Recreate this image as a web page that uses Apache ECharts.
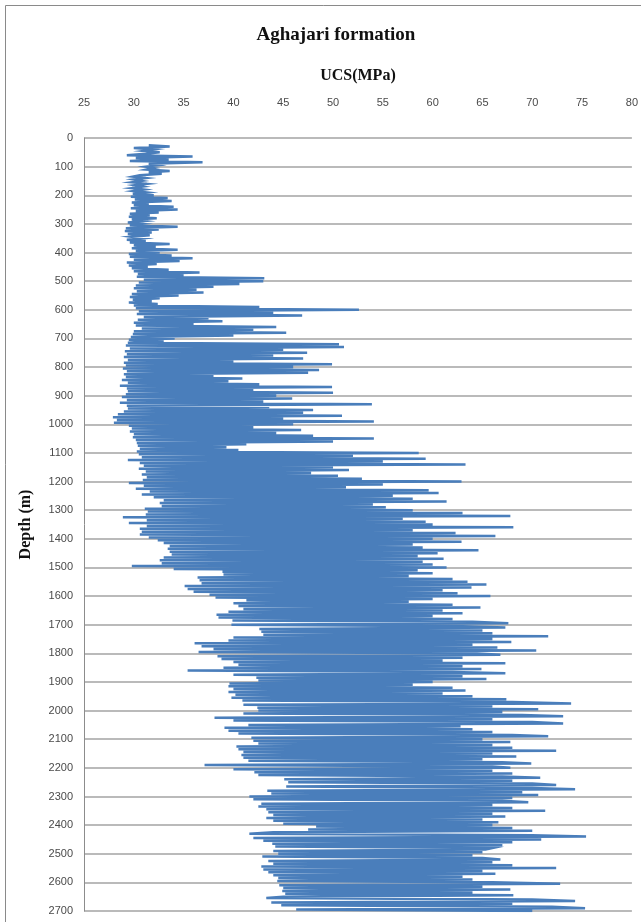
<!DOCTYPE html>
<html>
<head>
<meta charset="utf-8">
<title>Aghajari formation</title>
<script src="https://cdn.jsdelivr.net/npm/echarts@6/dist/echarts.min.js"></script>
<style>
  html, body { margin: 0; padding: 0; background: #ffffff; }
  #chart { width: 641px; height: 922px; }
</style>
</head>
<body>
<div id="chart"></div>
<script>
// UCS log of the Aghajari formation, [depth (m), UCS (MPa)] pairs by depth interval.
const logTo500 = [[25,31.5],[30,33.6],[35,30.0],[40,32.0],[45,31.0],[50,32.6],[55,31.2],[60,29.3],[65,35.9],[70,30.2],[75,33.5],[80,29.6],[85,36.9],[90,31.5],[95,32.4],[100,31.2],[105,32.0],[110,31.3],[115,33.6],[120,31.5],[125,32.8],[130,30.6],[135,29.9],[140,31.2],[145,30.0],[150,30.8],[155,29.8],[160,31.3],[165,30.1],[170,30.9],[175,29.8],[180,31.0],[185,30.0],[190,31.3],[195,29.9],[200,32.0],[205,29.7],[210,33.4],[215,30.1],[220,33.8],[225,29.8],[230,31.5],[235,30.0],[240,34.0],[245,29.7],[250,34.4],[255,30.2],[260,32.5],[265,29.6],[270,31.6],[275,29.5],[280,32.3],[285,29.8],[290,31.0],[295,29.4],[300,30.8],[305,29.6],[310,34.4],[315,29.2],[320,32.5],[325,29.1],[330,31.8],[335,29.4],[340,31.6],[345,29.8],[350,30.9],[355,29.3],[360,31.2],[365,29.6],[370,33.6],[375,30.0],[380,32.2],[385,29.8],[390,34.4],[395,30.2],[400,32.6],[405,29.5],[410,33.8],[415,29.6],[420,35.9],[425,30.0],[430,34.6],[435,29.3],[440,32.3],[445,29.5],[450,31.4],[455,29.8],[460,33.5],[465,30.0],[470,36.6],[475,30.4],[480,35.0],[485,30.3],[490,43.1],[495,31.0]];

const logTo1000 = [[500,43.0],[505,30.5],[510,40.6],[515,30.2],[520,38.0],[525,30.0],[530,36.3],[535,30.3],[540,37.0],[545,29.8],[550,34.5],[555,29.6],[560,32.6],[565,29.9],[570,31.8],[575,29.5],[580,32.4],[585,30.0],[590,42.6],[595,30.2],[600,52.6],[605,30.5],[610,44.0],[615,30.3],[620,46.9],[625,31.0],[630,37.5],[635,30.4],[640,38.9],[645,30.0],[650,36.0],[655,30.2],[660,44.3],[665,30.8],[670,42.0],[675,30.0],[680,45.3],[685,29.9],[690,40.0],[695,29.7],[700,34.1],[705,29.5],[710,33.0],[715,29.4],[720,50.6],[725,29.2],[730,51.1],[735,29.6],[740,45.0],[745,29.1],[750,47.4],[755,29.3],[760,44.0],[765,29.0],[770,47.0],[775,29.4],[780,40.0],[785,29.0],[790,49.9],[795,29.2],[800,46.0],[805,28.9],[810,48.6],[815,29.3],[820,47.5],[825,29.0],[830,38.0],[835,29.2],[840,40.9],[845,28.8],[850,39.5],[855,29.4],[860,42.6],[865,28.6],[870,49.9],[875,29.3],[880,42.0],[885,29.4],[890,50.0],[895,29.2],[900,44.3],[905,28.8],[910,45.9],[915,29.3],[920,43.0],[925,28.6],[930,53.9],[935,29.3],[940,43.6],[945,29.4],[950,48.0],[955,29.0],[960,47.0],[965,28.4],[970,50.9],[975,27.9],[980,45.0],[985,28.3],[990,54.1],[995,28.0]];

const logTo1500 = [[1000,46.0],[1005,29.5],[1010,42.0],[1015,29.8],[1020,46.8],[1025,29.6],[1030,44.3],[1035,30.0],[1040,48.0],[1045,29.9],[1050,54.1],[1055,30.2],[1060,50.0],[1065,30.3],[1070,41.3],[1075,30.4],[1080,39.3],[1085,30.6],[1090,40.5],[1095,30.3],[1100,58.6],[1105,30.5],[1110,52.0],[1115,30.8],[1120,59.3],[1125,29.4],[1130,55.0],[1135,30.6],[1140,63.3],[1145,31.0],[1150,50.0],[1155,30.5],[1160,51.6],[1165,31.2],[1170,47.8],[1175,30.8],[1180,50.5],[1185,31.3],[1190,52.9],[1195,30.9],[1200,62.9],[1205,29.5],[1210,55.0],[1215,31.0],[1220,51.3],[1225,30.2],[1230,59.6],[1235,31.6],[1240,60.6],[1245,30.8],[1250,56.0],[1255,32.0],[1260,58.0],[1265,33.0],[1270,61.4],[1275,32.6],[1280,54.0],[1285,32.8],[1290,55.3],[1295,31.1],[1300,58.0],[1305,31.4],[1310,63.0],[1315,31.2],[1320,67.8],[1325,28.9],[1330,57.0],[1335,31.3],[1340,59.3],[1345,29.5],[1350,60.0],[1355,31.3],[1360,68.1],[1365,30.6],[1370,58.0],[1375,30.8],[1380,62.3],[1385,30.6],[1390,66.3],[1395,31.5],[1400,60.0],[1405,32.4],[1410,62.9],[1415,33.0],[1420,58.0],[1425,33.6],[1430,59.0],[1435,33.4],[1440,64.6],[1445,33.6],[1450,60.5],[1455,33.8],[1460,58.5],[1465,33.0],[1470,61.1],[1475,32.6],[1480,59.0],[1485,32.8],[1490,60.0],[1495,29.8]];

const logTo2000 = [[1500,61.4],[1505,34.0],[1510,58.5],[1515,38.9],[1520,60.0],[1525,39.0],[1530,57.6],[1535,36.4],[1540,62.0],[1545,36.6],[1550,63.5],[1555,36.8],[1560,65.4],[1565,35.1],[1570,63.9],[1575,35.4],[1580,61.0],[1585,36.0],[1590,62.5],[1595,37.6],[1600,65.8],[1605,38.2],[1610,60.0],[1615,41.3],[1620,57.6],[1625,40.0],[1630,62.0],[1635,40.5],[1640,64.8],[1645,41.0],[1650,61.0],[1655,39.5],[1660,63.0],[1665,38.3],[1670,60.0],[1675,38.5],[1680,62.0],[1685,39.9],[1690,64.0],[1695,67.6],[1700,39.8],[1705,63.0],[1710,67.3],[1715,42.6],[1720,65.0],[1725,42.8],[1730,66.0],[1735,43.0],[1740,71.6],[1745,40.0],[1750,66.0],[1755,39.5],[1760,67.9],[1765,36.1],[1770,64.0],[1775,36.8],[1780,66.5],[1785,38.0],[1790,70.4],[1795,36.5],[1800,64.0],[1805,66.8],[1810,38.4],[1815,63.0],[1820,38.8],[1825,61.0],[1830,40.0],[1835,67.3],[1840,40.5],[1845,63.0],[1850,39.0],[1855,64.9],[1860,35.4],[1865,62.0],[1870,67.3],[1875,40.0],[1880,63.0],[1885,42.3],[1890,65.4],[1895,42.5],[1900,60.0],[1905,39.6],[1910,58.0],[1915,39.5],[1920,62.0],[1925,40.0],[1930,63.3],[1935,39.5],[1940,61.0],[1945,40.2],[1950,64.0],[1955,39.8],[1960,67.4],[1965,40.9],[1970,68.0],[1975,73.9],[1980,41.0],[1985,66.0],[1990,42.4],[1995,70.6]];

const logTo2700 = [[2000,42.5],[2005,67.0],[2010,41.0],[2015,69.0],[2020,73.1],[2025,38.1],[2030,66.0],[2035,40.0],[2040,70.0],[2045,73.1],[2050,41.5],[2055,62.8],[2060,39.1],[2065,64.0],[2070,39.5],[2075,66.0],[2080,40.5],[2085,68.0],[2090,71.6],[2095,41.8],[2100,65.0],[2105,42.0],[2110,67.8],[2115,42.5],[2120,66.0],[2125,40.3],[2130,68.0],[2135,40.5],[2140,72.4],[2145,41.0],[2150,66.0],[2155,40.8],[2160,68.4],[2165,41.0],[2170,65.0],[2175,41.5],[2180,67.0],[2185,69.9],[2190,37.1],[2195,66.0],[2200,67.8],[2205,40.0],[2210,66.0],[2215,42.1],[2220,68.0],[2225,42.5],[2230,67.0],[2235,70.8],[2240,45.1],[2245,68.0],[2250,45.5],[2255,70.0],[2260,72.4],[2265,45.3],[2270,70.0],[2275,74.3],[2280,43.4],[2285,69.0],[2290,43.8],[2295,70.6],[2300,41.6],[2305,68.0],[2310,42.0],[2315,67.0],[2320,69.6],[2325,42.8],[2330,66.0],[2335,42.5],[2340,68.0],[2345,43.3],[2350,71.3],[2355,43.5],[2360,66.0],[2365,44.0],[2370,67.3],[2375,43.3],[2380,65.0],[2385,44.0],[2390,66.6],[2395,45.0],[2400,66.0],[2405,48.3],[2410,68.0],[2415,47.5],[2420,70.0],[2425,44.0],[2430,41.6],[2435,70.0],[2440,75.4],[2445,42.0],[2450,70.9],[2455,43.0],[2460,68.0],[2465,43.9],[2470,67.0],[2475,44.2],[2480,66.0],[2485,65.3],[2490,44.0],[2495,65.0],[2500,44.5],[2505,64.0],[2510,42.9],[2515,65.0],[2520,66.8],[2525,43.5],[2530,66.0],[2535,44.0],[2540,68.0],[2545,42.8],[2550,72.4],[2555,43.0],[2560,65.0],[2565,43.5],[2570,66.3],[2575,44.0],[2580,63.0],[2585,44.5],[2590,64.0],[2595,44.4],[2600,66.0],[2605,72.8],[2610,44.6],[2615,65.0],[2620,45.0],[2625,67.8],[2630,44.9],[2635,64.0],[2640,45.2],[2645,68.1],[2650,45.0],[2655,43.3],[2660,70.0],[2665,74.3],[2670,43.8],[2675,68.0],[2680,44.8],[2685,72.0],[2690,75.3],[2695,46.3],[2700,70.0]];

// Axis ranges and texts
const ucsRange = { min: 25, max: 80, step: 5 };
const depthRange = { min: 0, max: 2700, step: 100 };
const chartTitle = 'Aghajari formation';
const ucsAxisName = 'UCS(MPa)';
const depthAxisName = 'Depth (m)';

// Join the intervals into one continuous log; each point is [UCS, depth].
const logPoints = []
  .concat(logTo500, logTo1000, logTo1500, logTo2000, logTo2700)
  .map(function (p) { return [p[1], p[0]]; });

const serifFamily = '"Liberation Serif", "DejaVu Serif", serif';
const tickFont = '"Liberation Sans", "DejaVu Sans", sans-serif';

const chart = echarts.init(document.getElementById('chart'), null, { renderer: 'canvas' });

chart.setOption({
  animation: false,
  backgroundColor: '#ffffff',
  graphic: [
    {
      type: 'rect',
      silent: true,
      shape: { x: 5.5, y: 5.5, width: 720, height: 1000 },
      style: { fill: 'none', stroke: '#8a8a8a', lineWidth: 1 }
    },
    {
      type: 'text',
      silent: true,
      x: 336,
      y: 35,
      style: {
        text: chartTitle,
        font: 'bold 19px ' + serifFamily,
        fill: '#111111',
        textAlign: 'center',
        textVerticalAlign: 'middle'
      }
    }
  ],
  grid: { left: 84, right: 7, top: 138, bottom: 11, containLabel: false },
  xAxis: {
    type: 'value',
    position: 'top',
    min: ucsRange.min,
    max: ucsRange.max,
    interval: ucsRange.step,
    name: ucsAxisName,
    nameLocation: 'middle',
    nameGap: 54,
    nameTextStyle: {
      fontFamily: serifFamily,
      fontWeight: 'bold',
      fontSize: 16,
      color: '#111111'
    },
    axisLine: { show: false },
    axisTick: { show: false },
    splitLine: { show: false },
    axisLabel: {
      margin: 30,
      fontFamily: tickFont,
      fontSize: 11,
      color: '#4a4a4a'
    }
  },
  yAxis: {
    type: 'value',
    inverse: true,
    min: depthRange.min,
    max: depthRange.max,
    interval: depthRange.step,
    name: depthAxisName,
    nameLocation: 'middle',
    nameGap: 50,
    nameTextStyle: {
      fontFamily: serifFamily,
      fontWeight: 'bold',
      fontSize: 16,
      color: '#111111'
    },
    axisLine: { show: true, lineStyle: { color: '#8c8c8c', width: 1 } },
    axisTick: { show: false },
    splitLine: { show: true, lineStyle: { color: '#a3a3a3', width: 1.5 } },
    axisLabel: {
      margin: 11,
      fontFamily: tickFont,
      fontSize: 11,
      color: '#4a4a4a',
      formatter: function (value) { return String(value); }
    }
  },
  series: [
    {
      type: 'line',
      data: logPoints,
      showSymbol: false,
      symbol: 'none',
      clip: true,
      smooth: false,
      lineStyle: { color: '#4a7ebb', width: 2.5, join: 'miter' },
      itemStyle: { color: '#4a7ebb' }
    }
  ]
});
</script>
</body>
</html>
